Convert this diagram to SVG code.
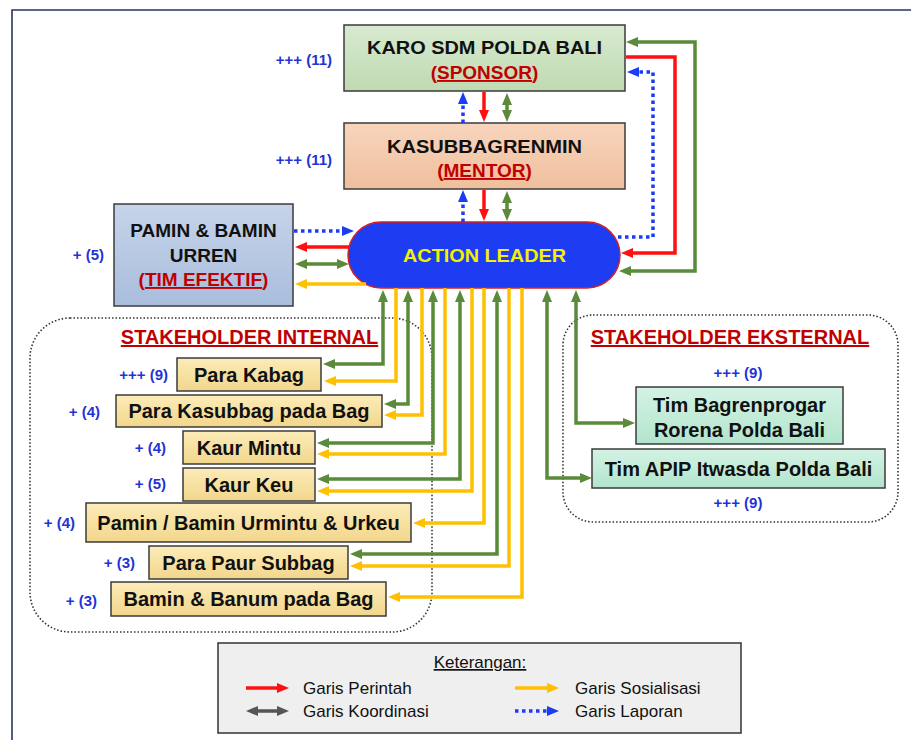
<svg xmlns="http://www.w3.org/2000/svg" width="911" height="740" viewBox="0 0 911 740">
<style>
.t{font-family:"Liberation Sans",Arial,sans-serif;font-weight:bold;text-anchor:middle;fill:#111;font-size:19px}
.r{fill:#c00000}
.u{text-decoration:underline}
.lbl{font-family:"Liberation Sans",Arial,sans-serif;font-weight:bold;font-size:15px;fill:#1f33d6;text-anchor:end}
.box{stroke:#3b3b3b;stroke-width:1.5}
.ln{fill:none;stroke-width:3.5}
.g{stroke:#5a8a3a}
.y{stroke:#ffc000}
.rd{stroke:#ff1010}
.b{stroke:#1a3cf5;stroke-dasharray:3.5 3.5}
.k{stroke:#555}
.grp{fill:none;stroke:#333;stroke-width:1.6;stroke-dasharray:1.5 2}
.lg{font-family:"Liberation Sans",Arial,sans-serif;font-size:17px;fill:#111}
</style>
<defs>
<linearGradient id="gGreen" x1="0" y1="0" x2="0" y2="1"><stop offset="0" stop-color="#d8ead0"/><stop offset="1" stop-color="#bfdab1"/></linearGradient>
<linearGradient id="gPeach" x1="0" y1="0" x2="0" y2="1"><stop offset="0" stop-color="#f8d5bd"/><stop offset="1" stop-color="#efbf9c"/></linearGradient>
<linearGradient id="gBlue" x1="0" y1="0" x2="0" y2="1"><stop offset="0" stop-color="#c6d4ea"/><stop offset="1" stop-color="#a9bddd"/></linearGradient>
<linearGradient id="gYel" x1="0" y1="0" x2="0" y2="1"><stop offset="0" stop-color="#fcecb8"/><stop offset="1" stop-color="#f2d68c"/></linearGradient>
<linearGradient id="gMint" x1="0" y1="0" x2="0" y2="1"><stop offset="0" stop-color="#d3f3e4"/><stop offset="1" stop-color="#b3e4cd"/></linearGradient>
<marker id="mg" viewBox="0 0 12 10" refX="4" refY="5" markerWidth="12" markerHeight="10" markerUnits="userSpaceOnUse" orient="auto-start-reverse"><path d="M0,0L12,5L0,10z" fill="#5a8a3a"/></marker>
<marker id="my" viewBox="0 0 12 10" refX="4" refY="5" markerWidth="12" markerHeight="10" markerUnits="userSpaceOnUse" orient="auto-start-reverse"><path d="M0,0L12,5L0,10z" fill="#ffc000"/></marker>
<marker id="mr" viewBox="0 0 12 10" refX="4" refY="5" markerWidth="12" markerHeight="10" markerUnits="userSpaceOnUse" orient="auto-start-reverse"><path d="M0,0L12,5L0,10z" fill="#ff1010"/></marker>
<marker id="mb" viewBox="0 0 12 10" refX="4" refY="5" markerWidth="12" markerHeight="10" markerUnits="userSpaceOnUse" orient="auto-start-reverse"><path d="M0,0L12,5L0,10z" fill="#1a3cf5"/></marker>
<marker id="mk" viewBox="0 0 12 10" refX="4" refY="5" markerWidth="12" markerHeight="10" markerUnits="userSpaceOnUse" orient="auto-start-reverse"><path d="M0,0L12,5L0,10z" fill="#555"/></marker>
</defs>
<rect width="911" height="740" fill="#fff"/>
<path d="M12,740V10H911" fill="none" stroke="#2a3560" stroke-width="1.6"/>

<!-- group outlines -->
<rect id="internal-group" x="30" y="318" width="402" height="314" rx="40" class="grp"/>
<rect id="external-group" x="563" y="315" width="335" height="207" rx="30" class="grp"/>

<g id="karo">
<rect x="344" y="25" width="281" height="66" fill="url(#gGreen)" class="box"/>
<text x="484.5" y="54" class="t" textLength="235" lengthAdjust="spacingAndGlyphs">KARO SDM POLDA BALI</text>
<text x="484.5" y="79" class="t r">(<tspan class="u">SPONSOR</tspan>)</text>
<text x="332" y="65" class="lbl">+++ (11)</text>
</g>
<g id="kasubbagrenmin">
<rect x="344" y="123" width="281" height="66" fill="url(#gPeach)" class="box"/>
<text x="484.5" y="153" class="t" textLength="195" lengthAdjust="spacingAndGlyphs">KASUBBAGRENMIN</text>
<text x="484.5" y="177" class="t r">(<tspan class="u">MENTOR</tspan>)</text>
<text x="332" y="165" class="lbl">+++ (11)</text>
</g>
<g id="pamin-urren">
<rect x="114" y="204" width="179" height="102" fill="url(#gBlue)" class="box"/>
<text x="203.5" y="237" class="t">PAMIN &amp; BAMIN</text>
<text x="203.5" y="262" class="t">URREN</text>
<text x="203.5" y="286" class="t r">(<tspan class="u">TIM EFEKTIF</tspan>)</text>
<text x="104" y="260" class="lbl">+ (5)</text>
</g>
<g id="action-leader">
<rect x="348" y="222" width="272" height="66" rx="33" fill="#1e3cf2" stroke="#d42020" stroke-width="1.5"/>
<text x="484.5" y="262" class="t" style="fill:#f4f000" textLength="163" lengthAdjust="spacingAndGlyphs">ACTION LEADER</text>
</g>

<text x="249.5" y="344" class="t r u" style="font-size:20px">STAKEHOLDER INTERNAL</text>
<text x="730" y="344" class="t r u" style="font-size:20px">STAKEHOLDER EKSTERNAL</text>

<g id="para-kabag">
<rect x="177" y="358" width="144" height="33" fill="url(#gYel)" class="box"/>
<text x="249" y="382" class="t" style="font-size:20px">Para Kabag</text>
<text x="168" y="380" class="lbl">+++ (9)</text>
</g>
<g id="para-kasubbag">
<rect x="116" y="395" width="266" height="32" fill="url(#gYel)" class="box"/>
<text x="249" y="418" class="t" style="font-size:20px">Para Kasubbag pada Bag</text>
<text x="100" y="417" class="lbl">+ (4)</text>
</g>
<g id="kaur-mintu">
<rect x="183" y="431" width="132" height="33" fill="url(#gYel)" class="box"/>
<text x="249" y="455" class="t" style="font-size:20px">Kaur Mintu</text>
<text x="166" y="453" class="lbl">+ (4)</text>
</g>
<g id="kaur-keu">
<rect x="183" y="468" width="132" height="33" fill="url(#gYel)" class="box"/>
<text x="249" y="492" class="t" style="font-size:20px">Kaur Keu</text>
<text x="166" y="489" class="lbl">+ (5)</text>
</g>
<g id="pamin-bamin-urmintu">
<rect x="86" y="503" width="325" height="39" fill="url(#gYel)" class="box"/>
<text x="248.5" y="530" class="t" style="font-size:20px">Pamin / Bamin Urmintu &amp; Urkeu</text>
<text x="75" y="528" class="lbl">+ (4)</text>
</g>
<g id="para-paur">
<rect x="149" y="546" width="199" height="33" fill="url(#gYel)" class="box"/>
<text x="248.5" y="570" class="t" style="font-size:20px">Para Paur Subbag</text>
<text x="135" y="568" class="lbl">+ (3)</text>
</g>
<g id="bamin-banum">
<rect x="111" y="582" width="275" height="34" fill="url(#gYel)" class="box"/>
<text x="248.5" y="606" class="t" style="font-size:20px">Bamin &amp; Banum pada Bag</text>
<text x="97" y="606" class="lbl">+ (3)</text>
</g>

<g id="tim-bagrenprogar">
<rect x="636" y="387" width="207" height="57" fill="url(#gMint)" class="box"/>
<text x="739.5" y="412" class="t" style="font-size:20px">Tim Bagrenprogar</text>
<text x="739.5" y="437" class="t" style="font-size:20px">Rorena Polda Bali</text>
<text x="738" y="378" class="lbl" style="text-anchor:middle">+++ (9)</text>
</g>
<g id="tim-apip">
<rect x="592" y="449" width="293" height="39" fill="url(#gMint)" class="box"/>
<text x="738.5" y="476" class="t" style="font-size:20px">Tim APIP Itwasda Polda Bali</text>
<text x="738" y="508" class="lbl" style="text-anchor:middle">+++ (9)</text>
</g>

<g id="connectors">
<path class="ln b" d="M463,123V100" marker-end="url(#mb)"/>
<path class="ln rd" d="M484,92V114" marker-end="url(#mr)"/>
<path class="ln g" d="M507,101V114" marker-start="url(#mg)" marker-end="url(#mg)"/>
<path class="ln b" d="M463,222V198" marker-end="url(#mb)"/>
<path class="ln rd" d="M484,190V213" marker-end="url(#mr)"/>
<path class="ln g" d="M507,199V213" marker-start="url(#mg)" marker-end="url(#mg)"/>
<path class="ln g" d="M627,271H695V42H634" marker-start="url(#mg)" marker-end="url(#mg)"/>
<path class="ln rd" d="M626,57H675V253H629" marker-end="url(#mr)"/>
<path class="ln b" d="M618,237H653V72H635" marker-end="url(#mb)"/>
<path class="ln b" d="M294,231H346" marker-end="url(#mb)"/>
<path class="ln rd" d="M350,247H303" marker-end="url(#mr)"/>
<path class="ln g" d="M303,264H341" marker-start="url(#mg)" marker-end="url(#mg)"/>
<path class="ln y" d="M366,284H303" marker-end="url(#my)"/>
<path class="ln g" d="M383,298V364H331" marker-start="url(#mg)" marker-end="url(#mg)"/>
<path class="ln y" d="M396,288V381H332" marker-end="url(#my)"/>
<path class="ln g" d="M408,298V404H392" marker-start="url(#mg)" marker-end="url(#mg)"/>
<path class="ln y" d="M422,288V415H392" marker-end="url(#my)"/>
<path class="ln g" d="M433,298V443H325" marker-start="url(#mg)" marker-end="url(#mg)"/>
<path class="ln y" d="M445,288V454H325" marker-end="url(#my)"/>
<path class="ln g" d="M460,298V479H325" marker-start="url(#mg)" marker-end="url(#mg)"/>
<path class="ln y" d="M472,288V491H325" marker-end="url(#my)"/>
<path class="ln y" d="M484,288V523H421" marker-end="url(#my)"/>
<path class="ln g" d="M497,298V554H358" marker-start="url(#mg)" marker-end="url(#mg)"/>
<path class="ln y" d="M509,288V566H358" marker-end="url(#my)"/>
<path class="ln y" d="M522,288V597H396" marker-end="url(#my)"/>
<path class="ln g" d="M547,298V478H584" marker-start="url(#mg)" marker-end="url(#mg)"/>
<path class="ln g" d="M576,298V423H627" marker-start="url(#mg)" marker-end="url(#mg)"/>
</g>

<g id="legend">
<rect x="218" y="643" width="523" height="90" fill="#efefef" stroke="#333" stroke-width="1.5"/>
<text x="480" y="668" class="lg u" style="text-anchor:middle">Keterangan:</text>
<path class="ln rd" d="M246,688H281" marker-end="url(#mr)"/>
<text x="303" y="694" class="lg">Garis Perintah</text>
<path class="ln k" d="M254,711H281" marker-start="url(#mk)" marker-end="url(#mk)"/>
<text x="303" y="717" class="lg">Garis Koordinasi</text>
<path class="ln y" d="M515,688H551" marker-end="url(#my)"/>
<text x="575" y="694" class="lg">Garis Sosialisasi</text>
<path class="ln b" d="M515,711H551" marker-end="url(#mb)"/>
<text x="575" y="717" class="lg">Garis Laporan</text>
</g>
</svg>
